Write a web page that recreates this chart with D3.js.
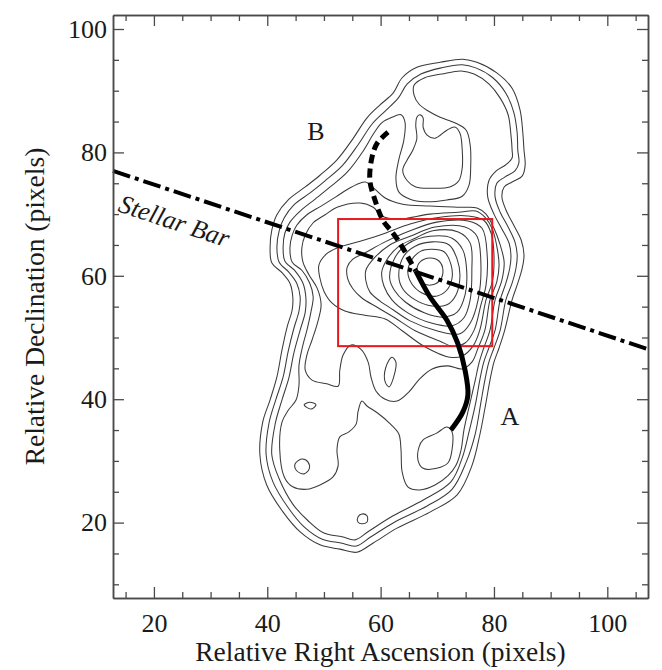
<!DOCTYPE html>
<html>
<head>
<meta charset="utf-8">
<script src="https://cdn.jsdelivr.net/npm/d3@7"></script>
<style>
  body { margin: 0; background: #fff; }
  text { font-family: "Liberation Serif", "Times New Roman", serif; fill: #1a1a1a; }
</style>
</head>
<body>
<svg id="chart" width="662" height="670"></svg>
<script>
// Axis ranges (relative pixels) and tick values
const xDomain = [12.78, 107.18];
const yDomain = [7.78, 102.27];
const majorTicks = [20, 40, 60, 80, 100];
const minorTicksX = [15, 25, 30, 35, 45, 50, 55, 65, 70, 75, 85, 90, 95, 105];
const minorTicksY = [10, 15, 25, 30, 35, 45, 50, 55, 65, 70, 75, 85, 90, 95];

// Intensity contours, traced as [RA, Dec] vertices (closed loops)
const contourO1 = [[74.5,95.1],[77.0,94.6],[80.5,92.9],[83.2,90.4],[84.6,86.9],[85.1,83.1],[85.3,80.4],[85.5,77.9],[85.0,76.2],[83.2,75.2],[81.8,74.4],[81.4,72.8],[82.1,70.7],[83.5,68.2],[84.8,65.8],[85.3,63.4],[85.0,61.3],[84.2,58.8],[83.2,56.1],[81.9,51.2],[80.9,48.3],[80.0,46.0],[79.3,43.1],[78.6,39.5],[77.5,34.2],[76.1,29.2],[73.5,24.5],[68.7,21.7],[62.9,19.1],[58.7,16.7],[55.8,15.2],[52.8,15.7],[49.3,16.4],[45.8,18.5],[42.8,21.7],[39.9,26.1],[38.7,31.0],[39.2,36.3],[40.5,39.9],[41.7,43.6],[42.6,48.0],[43.5,51.7],[44.4,54.5],[44.5,56.6],[44.0,58.8],[42.6,60.5],[40.8,62.1],[40.5,64.7],[40.8,67.4],[41.7,69.9],[43.7,72.3],[46.7,74.4],[49.3,76.3],[52.3,78.8],[55.1,82.2],[57.6,85.6],[59.9,87.7],[62.2,89.6],[63.8,92.1],[66.4,93.8],[70.5,94.6]];
const contourO2 = [[74.4,94.2],[76.8,93.7],[79.8,92.1],[82.1,89.6],[83.5,86.5],[84.1,83.1],[84.2,80.4],[84.4,78.3],[83.7,77.0],[81.9,76.0],[80.5,75.0],[80.2,72.8],[81.1,70.3],[82.5,67.9],[83.7,65.5],[84.1,63.4],[83.9,61.3],[83.2,58.8],[82.1,56.1],[81.1,51.2],[80.0,48.3],[79.1,46.0],[78.4,43.1],[77.7,39.5],[76.7,34.4],[75.1,29.8],[72.6,25.4],[68.2,22.7],[62.5,20.1],[58.3,17.7],[55.7,16.2],[53.0,16.7],[49.7,17.3],[46.5,19.3],[43.7,22.4],[41.0,26.6],[39.8,31.0],[40.3,36.1],[41.5,39.9],[42.8,43.6],[43.7,47.8],[44.7,51.5],[45.6,54.3],[45.8,56.6],[45.2,58.8],[43.8,60.6],[42.1,62.2],[41.7,64.7],[42.1,67.3],[43.0,69.4],[44.7,71.5],[47.5,73.4],[50.2,75.4],[53.2,77.8],[56.0,81.2],[58.5,84.6],[60.8,86.7],[63.1,88.8],[64.7,91.1],[67.1,92.7],[70.7,93.7]];
// third level: wraps into the northern lobe around the low-emission bay
const contourO3 = [[74.2,93.2],[76.5,92.7],[79.1,91.1],[81.1,88.8],[82.5,86.1],[83.0,82.8],[83.2,80.4],[83.2,79.1],[82.1,78.0],[80.4,77.0],[79.1,75.4],[78.9,72.8],[80.0,70.0],[81.4,67.6],[82.7,65.2],[83.0,63.2],[82.8,61.3],[82.1,58.8],[81.1,56.1],[80.2,51.2],[79.1,48.3],[78.2,46.0],[77.5,43.1],[76.8,39.5],[75.6,34.7],[74.4,30.5],[72.4,26.6],[67.6,23.7],[62.2,21.1],[57.9,18.6],[55.5,17.2],[53.2,17.7],[50.0,18.3],[47.2,20.3],[44.5,23.0],[42.1,27.1],[40.8,31.0],[41.4,36.0],[42.6,39.9],[43.8,43.4],[44.7,47.5],[45.8,51.2],[46.7,54.1],[46.8,56.6],[46.3,58.8],[44.9,60.8],[43.1,62.4],[42.8,64.7],[43.1,66.9],[44.0,68.7],[45.8,70.5],[48.4,72.4],[51.1,74.4],[54.1,76.8],[56.9,80.2],[58.8,83.1],[60.2,84.8],[62.0,85.7],[63.6,86.1],[64.3,84.9],[64.1,82.0],[63.2,78.8],[62.7,75.8],[63.2,73.6],[65.2,72.4],[67.8,72.0],[71.7,72.3],[74.4,72.9],[75.6,74.7],[75.9,77.9],[75.8,81.2],[75.1,83.6],[73.1,84.8],[70.5,85.7],[68.4,86.7],[66.8,87.8],[65.9,89.3],[65.9,90.9],[67.8,92.1],[70.8,92.7]];
const contourL4 = [[57.3,75.2],[58.8,74.2],[60.8,72.6],[63.9,71.6],[68.7,71.3],[74.0,71.1],[77.0,71.0],[78.6,70.0],[80.0,67.7],[81.1,65.0],[81.8,62.2],[81.4,59.3],[80.2,56.1],[79.3,51.2],[78.2,48.3],[77.4,46.0],[76.7,43.1],[75.8,39.5],[74.7,35.0],[74.2,31.8],[73.3,29.3],[71.9,27.6],[69.6,26.1],[66.9,25.3],[64.8,25.8],[63.8,28.2],[63.6,31.8],[63.2,34.4],[61.6,36.1],[59.4,37.8],[57.6,38.9],[56.7,39.7],[56.0,37.9],[55.7,36.0],[54.4,34.7],[52.8,33.9],[52.3,31.8],[52.5,29.2],[51.6,27.4],[49.3,26.1],[47.0,25.4],[44.5,25.8],[43.0,27.4],[42.2,31.8],[42.6,36.3],[43.7,38.2],[45.1,39.9],[45.6,42.3],[45.6,45.5],[46.3,48.8],[47.0,51.2],[47.7,54.1],[48.1,56.6],[47.5,58.8],[46.1,60.9],[44.4,62.2],[44.0,64.5],[44.4,66.6],[45.2,68.2],[47.0,69.9],[49.5,71.3],[52.1,72.8],[54.9,74.4]];
const contourL5 = [[50.2,69.9],[52.3,71.1],[56.4,71.8],[58.7,71.1],[60.2,69.7],[63.1,69.2],[68.7,70.0],[73.7,70.3],[76.8,70.5],[78.4,69.5],[79.7,67.6],[80.5,64.8],[80.9,61.7],[80.5,59.0],[79.3,56.1],[78.4,51.2],[77.2,48.3],[76.1,46.0],[74.4,44.9],[71.9,45.4],[69.1,44.9],[66.9,43.3],[65.0,41.2],[62.9,39.7],[60.8,40.0],[59.2,41.3],[58.3,43.6],[57.8,46.0],[56.5,48.1],[54.8,48.8],[53.4,47.2],[52.8,44.7],[52.5,42.1],[50.5,42.5],[47.9,43.1],[46.7,44.7],[47.0,47.2],[47.9,49.6],[48.9,52.5],[49.5,55.3],[48.8,58.0],[47.4,60.1],[46.3,62.2],[46.1,64.5],[46.7,66.6],[48.1,68.6]];
const contourP8 = [[49.1,61.7],[50.4,63.5],[52.3,64.5],[56.4,65.6],[60.8,66.9],[65.2,68.4],[70.5,69.5],[75.4,69.7],[78.2,69.0],[79.5,66.9],[80.0,63.4],[79.7,59.0],[78.6,56.1],[77.5,51.2],[76.3,48.6],[74.4,47.0],[72.2,46.8],[67.8,48.5],[63.8,51.1],[60.8,53.0],[57.2,53.6],[53.7,54.3],[51.4,55.6],[50.0,57.5],[49.3,59.6]];
const contourP7 = [[54.1,61.4],[54.2,59.5],[55.1,57.9],[56.7,56.4],[59.4,54.9],[62.5,53.2],[66.1,51.1],[70.5,49.4],[72.6,48.6],[74.9,49.1],[76.5,51.2],[77.7,55.3],[78.6,58.5],[78.8,63.4],[77.9,67.7],[75.4,68.9],[69.9,68.7],[65.2,67.3],[60.8,65.5],[57.2,63.7],[55.1,62.7]];
const contourP6 = [[57.4,60.9],[57.4,59.2],[58.1,57.4],[59.9,55.9],[62.2,54.5],[65.2,52.7],[69.9,51.1],[74.0,50.6],[75.8,52.3],[77.2,56.1],[77.7,61.7],[77.0,66.4],[74.9,67.9],[69.6,67.9],[65.2,66.4],[61.6,65.0],[58.7,62.7]];
const contourP5 = [[60.2,60.6],[60.6,58.3],[62.0,56.1],[64.8,54.0],[69.1,52.3],[72.6,51.9],[74.7,53.2],[75.8,56.1],[76.1,60.9],[75.8,65.3],[73.7,67.1],[69.2,67.3],[66.1,66.1],[63.1,64.7],[61.1,62.6]];
const contourP4 = [[61.6,59.6],[62.5,62.9],[64.8,65.2],[68.7,66.4],[72.6,66.1],[74.5,64.2],[75.2,60.6],[74.9,56.9],[73.5,54.1],[71.0,53.3],[67.7,54.0],[64.3,55.8],[62.4,57.7]];
const contourP3 = [[63.2,60.1],[64.1,63.2],[66.1,64.8],[69.1,65.5],[72.1,65.0],[73.5,62.7],[74.0,60.0],[73.3,56.9],[71.7,55.3],[69.1,55.1],[66.1,56.1],[63.9,57.9]];
const contourP2 = [[64.8,60.6],[65.5,62.6],[67.1,64.0],[69.1,64.3],[71.2,63.9],[72.4,61.9],[72.6,59.6],[71.7,57.7],[69.8,56.7],[67.3,57.2],[65.5,58.7]];
const contourP1 = [[66.4,60.8],[66.9,62.2],[68.7,62.9],[70.3,62.4],[71.0,60.9],[70.5,59.3],[68.9,58.5],[67.1,59.0]];
const contourH1 = [[66.9,86.1],[67.5,85.6],[67.5,84.1],[68.2,82.8],[69.6,82.3],[71.7,83.6],[73.1,84.1],[74.0,83.1],[74.4,80.4],[74.4,77.5],[73.8,75.4],[72.2,74.4],[69.1,74.2],[66.2,74.4],[64.7,75.4],[63.9,77.1],[64.7,78.8],[65.7,80.4],[66.4,82.3],[66.2,84.4],[66.4,85.7]];
const contourS1 = [[46.1,30.3],[47.2,29.8],[47.4,28.7],[46.5,27.9],[45.2,28.4],[44.9,29.5]];
const contourS2 = [[46.5,39.1],[47.5,39.5],[48.6,39.1],[47.7,38.4]];
const contourS3 = [[56.0,20.9],[56.7,21.4],[57.6,21.1],[57.6,20.1],[56.7,19.8],[56.0,20.1]];
const contourS4 = [[62.0,46.8],[62.7,46.0],[62.4,43.9],[61.5,42.0],[60.8,42.8],[60.9,45.1]];
const contourS5 = [[67.5,33.4],[69.9,34.5],[71.7,35.5],[72.6,34.7],[72.6,31.8],[71.9,29.7],[69.9,28.8],[67.5,28.8],[66.6,30.1],[66.8,32.3]];

// Spiral arm: dashed northern part (B) and solid southern part (A)
const armB = [[61.3,83.3],[59.4,81.5],[58.5,79.3],[58.1,75.5],[59.0,72.3],[60.4,69.0],[62.2,66.9],[63.8,64.7],[65.2,62.4],[66.2,60.8]];
const armA = [[66.2,60.8],[68.7,56.6],[71.7,52.8],[73.6,49.1],[74.9,44.7],[75.4,40.7],[74.5,37.9],[72.4,35.0]];

// Stellar bar axis (end points at the frame edges)
const barRA = [12.78, 107.18];
const barDec = [77.0, 48.1];

// Region box
const boxRA = [52.5, 79.7];
const boxDec = [48.6, 69.2];

// Labels
const labelB = {text: "B", ra: 48.6, dec: 82.0};
const labelA = {text: "A", ra: 82.8, dec: 35.8};
const barLabel = {text: "Stellar Bar", ra: 13.5, dec: 70.5, angle: 18.5};

const contours = [contourO1, contourO2, contourO3, contourL4, contourL5, contourP8, contourP7,
  contourP6, contourP5, contourP4, contourP3, contourP2, contourP1, contourH1,
  contourS1, contourS2, contourS3, contourS4, contourS5];

const svg = d3.select("#chart");
const plotLeft = 113, plotTop = 15, plotRight = 648, plotBottom = 598;

const x = d3.scaleLinear().domain(xDomain).range([plotLeft, plotRight]);
const y = d3.scaleLinear().domain(yDomain).range([plotBottom, plotTop]);

const closedLine = d3.line().x(d => x(d[0])).y(d => y(d[1])).curve(d3.curveCatmullRomClosed.alpha(0.5));
const openLine = d3.line().x(d => x(d[0])).y(d => y(d[1])).curve(d3.curveCatmullRom.alpha(0.5));

// contours
svg.append("g")
  .selectAll("path")
  .data(contours)
  .join("path")
  .attr("d", closedLine)
  .attr("fill", "none")
  .attr("stroke", "#3a3a3a")
  .attr("stroke-width", 1.05);

// region box
svg.append("rect")
  .attr("x", x(boxRA[0]))
  .attr("y", y(boxDec[1]))
  .attr("width", x(boxRA[1]) - x(boxRA[0]))
  .attr("height", y(boxDec[0]) - y(boxDec[1]))
  .attr("fill", "none")
  .attr("stroke", "#e8181c")
  .attr("stroke-width", 2);

// stellar bar
svg.append("line")
  .attr("x1", x(barRA[0])).attr("y1", y(barDec[0]))
  .attr("x2", x(barRA[1])).attr("y2", y(barDec[1]))
  .attr("stroke", "#000")
  .attr("stroke-width", 4)
  .attr("stroke-dasharray", "18,5,4,5");

// spiral arm
svg.append("path")
  .attr("d", openLine(armB))
  .attr("fill", "none")
  .attr("stroke", "#000")
  .attr("stroke-width", 5)
  .attr("stroke-dasharray", "9,5");
svg.append("path")
  .attr("d", openLine(armA))
  .attr("fill", "none")
  .attr("stroke", "#000")
  .attr("stroke-width", 5);

// axes: major and minor ticks on all four sides, pointing inward
const axisColor = "#4a4a4a";
function styleAxis(g) {
  g.selectAll("path.domain").attr("stroke", axisColor).attr("stroke-width", 1.5);
  g.selectAll(".tick line").attr("stroke", axisColor).attr("stroke-width", 1.3);
  g.selectAll(".tick text").style("font-family", "'Liberation Serif', 'Times New Roman', serif")
    .style("font-size", "26px").attr("fill", "#1a1a1a");
}

svg.append("g").attr("transform", `translate(0,${plotBottom})`)
  .call(d3.axisBottom(x).tickValues(majorTicks).tickSize(-11).tickSizeOuter(0).tickPadding(16))
  .call(styleAxis);
svg.append("g").attr("transform", `translate(0,${plotBottom})`)
  .call(d3.axisBottom(x).tickValues(minorTicksX).tickSize(-6).tickSizeOuter(0).tickFormat(""))
  .call(styleAxis);
svg.append("g").attr("transform", `translate(0,${plotTop})`)
  .call(d3.axisTop(x).tickValues(majorTicks).tickSize(-11).tickSizeOuter(0).tickFormat(""))
  .call(styleAxis);
svg.append("g").attr("transform", `translate(0,${plotTop})`)
  .call(d3.axisTop(x).tickValues(minorTicksX).tickSize(-6).tickSizeOuter(0).tickFormat(""))
  .call(styleAxis);
svg.append("g").attr("transform", `translate(${plotLeft},0)`)
  .call(d3.axisLeft(y).tickValues(majorTicks).tickSize(-11).tickSizeOuter(0).tickPadding(6))
  .call(styleAxis);
svg.append("g").attr("transform", `translate(${plotLeft},0)`)
  .call(d3.axisLeft(y).tickValues(minorTicksY).tickSize(-6).tickSizeOuter(0).tickFormat(""))
  .call(styleAxis);
svg.append("g").attr("transform", `translate(${plotRight},0)`)
  .call(d3.axisRight(y).tickValues(majorTicks).tickSize(-11).tickSizeOuter(0).tickFormat(""))
  .call(styleAxis);
svg.append("g").attr("transform", `translate(${plotRight},0)`)
  .call(d3.axisRight(y).tickValues(minorTicksY).tickSize(-6).tickSizeOuter(0).tickFormat(""))
  .call(styleAxis);

// axis titles
svg.append("text")
  .attr("x", (plotLeft + plotRight) / 2).attr("y", 661)
  .attr("text-anchor", "middle")
  .style("font-size", "27.5px")
  .text("Relative Right Ascension (pixels)");
svg.append("text")
  .attr("transform", `translate(44,${(plotTop + plotBottom) / 2}) rotate(-90)`)
  .attr("text-anchor", "middle")
  .style("font-size", "27.5px")
  .text("Relative Declination (pixels)");

// annotations
[labelA, labelB].forEach(l => {
  svg.append("text")
    .attr("x", x(l.ra)).attr("y", y(l.dec))
    .attr("text-anchor", "middle")
    .style("font-size", "26px")
    .text(l.text);
});
svg.append("text")
  .attr("transform", `translate(${x(barLabel.ra)},${y(barLabel.dec)}) rotate(${barLabel.angle})`)
  .style("font-size", "26px")
  .style("font-style", "italic")
  .text(barLabel.text);
</script>
</body>
</html>
